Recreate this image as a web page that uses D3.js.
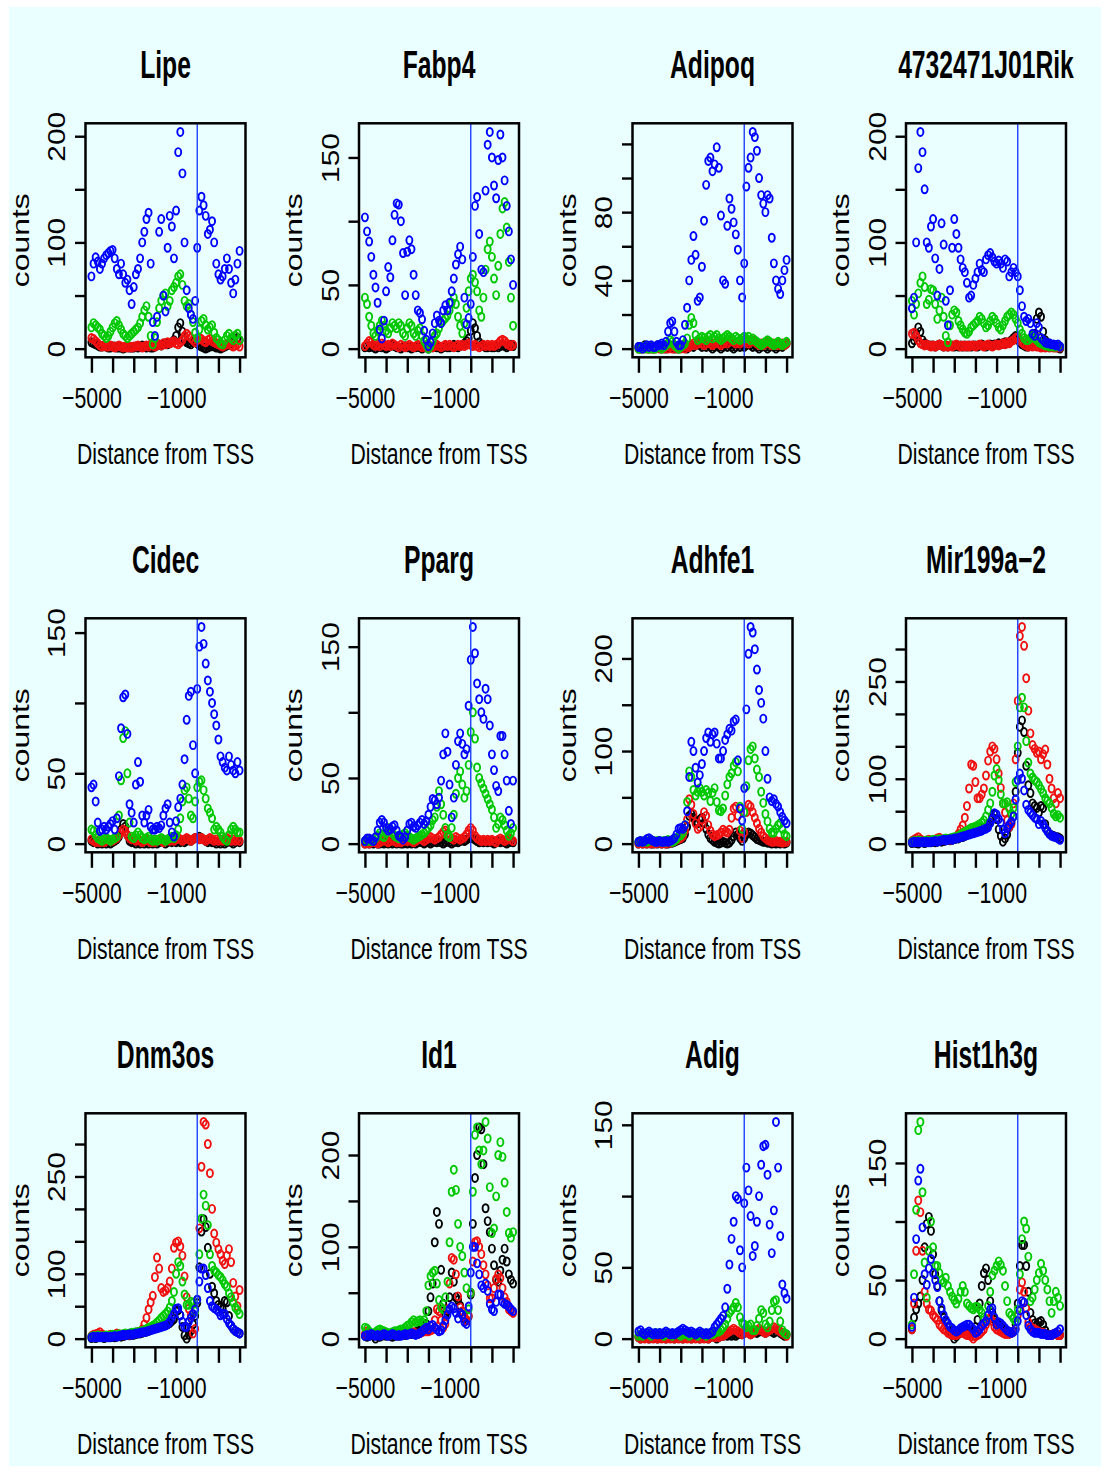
<!DOCTYPE html>
<html lang="en">
<head>
<meta charset="utf-8">
<title>Counts around TSS</title>
<script src="https://cdn.jsdelivr.net/npm/d3@7"></script>
<style>
body { margin: 0; background: #ffffff; }
svg text { font-family: "Liberation Sans", Arial, sans-serif; fill: #000; }
</style>
</head>
<body>
<script>
// distance from TSS of every bin, 100 bp apart
var distances = d3.range(-5000, 2001, 100);
var xTickValues = [-5000, -4000, -3000, -2000, -1000, 0, 1000, 2000];
var xTickLabels = [-5000, -1000];

var geneNames = ["Lipe", "Fabp4", "Adipoq", "4732471J01Rik", "Cidec", "Pparg",
                 "Adhfe1", "Mir199a\u22122", "Dnm3os", "Id1", "Adig", "Hist1h3g"];

var yTicks = [[0,50,100,150,200], [0,50,100,150], [0,20,40,60,80,100,120], [0,50,100,150,200],
              [0,50,100,150], [0,50,100,150], [0,50,100,150,200], [0,50,100,150,200,250,300],
              [0,50,100,150,200,250,300], [0,50,100,150,200], [0,50,100,150], [0,50,100,150]];
var yLabels = [[0,100,200], [0,50,150], [0,40,80], [0,100,200],
               [0,50,150], [0,50,150], [0,100,200], [0,100,250],
               [0,100,250], [0,100,200], [0,50,150], [0,50,150]];

// counts, series order: black, red, green, blue
var lipeBlack = [6,5,4,3,2,2,3,2,1,1, 2,2,1,1,1,0,1,2,1,1, 1,2,1,2,3,2,1,2,1,1, 2,3,4,3,4,5,4,5,6,8, 12,20,24,16,8,6,5,4,6,8, 5,3,2,1,0,1,2,3,2,1, 1,0,1,2,3,4,6,10,12,10,8];
var lipeRed = [10,9,7,5,3,2,3,2,2,3, 2,1,2,3,2,1,2,1,2,1, 2,2,3,2,1,2,3,2,4,3, 2,3,4,3,5,4,6,5,6,7, 5,4,6,8,12,14,12,10,8,6, 8,10,9,7,6,8,9,7,6,5, 4,3,2,3,4,5,3,2,3,4,2];
var lipeGreen = [20,24,22,20,18,14,12,10,12,16, 20,24,26,22,18,14,12,10,12,14, 16,18,20,24,30,36,40,30,12,4, 10,25,38,45,50,52,40,45,55,58, 62,68,70,60,45,40,42,32,25,15, 10,18,26,28,22,18,20,22,15,10, 8,5,4,8,12,14,10,8,12,14,8];
var lipeBlue = [68,80,86,82,75,80,85,88,90,92, 93,85,75,70,80,70,62,65,55,42, 58,70,75,85,100,110,122,128,80,25, 12,30,110,122,50,35,95,125,115,85, 130,185,204,165,100,55,38,32,28,45, 95,130,143,135,125,108,112,120,100,80, 70,65,68,75,85,75,62,52,65,80,92];

var fabp4Black = [1,2,1,2,1,0,1,2,1,1, 0,1,2,3,2,1,1,0,1,2, 1,1,0,1,1,2,1,0,1,1, 0,1,1,2,1,1,0,1,2,1, 1,2,3,2,1,2,3,4,6,8, 14,20,16,10,5,3,2,1,1,2, 1,1,2,1,2,3,2,1,2,3,2];
var fabp4Red = [2,4,6,5,3,2,3,2,4,3, 2,3,2,4,3,2,1,3,2,1, 2,3,2,1,2,3,2,1,2,1, 1,2,1,2,3,2,1,2,3,2, 3,2,1,2,3,2,3,2,3,4, 3,2,3,2,1,2,3,2,3,2, 3,2,3,4,6,7,6,4,3,2,3];
var fabp4Green = [40,35,25,18,12,10,14,18,22,18, 14,12,16,20,18,16,20,18,12,10, 16,20,18,12,10,14,16,10,6,3, 0,2,6,10,12,16,20,22,24,26, 30,36,40,35,25,18,12,20,32,45, 55,58,52,45,30,25,40,62,78,84, 72,55,42,65,90,110,115,95,68,40,18];
var fabp4Blue = [103,92,84,72,58,48,36,15,8,22, 45,64,56,85,105,114,113,100,75,42, 76,85,78,58,42,30,28,23,14,7, 2,5,12,20,26,22,20,30,34,30, 36,45,55,66,74,80,70,40,19,24, 35,72,112,119,90,62,60,124,160,170, 150,128,118,148,168,150,132,112,92,70,50];

var adipoqBlack = [1,0,1,2,1,0,1,0,1,2, 1,0,1,0,1,2,1,0,1,0, 1,2,1,0,1,2,1,2,3,2, 1,2,1,2,1,0,1,2,1,0, 1,2,1,2,1,0,1,2,1,2, 1,2,3,2,1,2,1,0,1,2, 1,0,1,2,1,0,1,2,1,2,3];
var adipoqRed = [0,1,0,1,0,1,0,1,0,1, 0,1,0,1,0,1,0,1,0,1, 0,1,0,1,1,2,3,2,3,4, 3,2,3,4,3,2,3,4,3,2, 3,4,3,4,5,4,3,4,3,4, 5,4,3,4,5,4,3,2,3,2, 3,4,3,2,3,2,3,2,3,2,3];
var adipoqGreen = [0,0,1,0,1,0,1,0,0,1, 1,0,1,2,3,5,4,2,1,0, 1,2,3,6,14,18,15,8,5,6, 7,6,5,7,8,6,7,8,6,5, 6,7,8,7,6,5,7,6,5,6, 7,6,7,5,6,5,4,3,2,3, 4,5,4,3,2,3,4,3,2,3,4];
var adipoqBlue = [1,1,0,1,2,1,2,1,1,2, 2,3,2,4,10,15,16,10,4,2, 2,5,14,24,40,52,66,55,28,30, 48,75,96,110,112,104,108,118,106,78, 40,38,72,88,82,74,67,58,40,30, 50,95,106,112,127,124,116,100,90,85, 80,90,88,65,50,40,35,32,40,46,52];

var rikBlack = [5,8,14,20,16,8,5,4,3,3, 3,2,3,4,3,2,3,2,3,3, 2,3,2,3,2,3,2,3,2,3, 3,2,3,4,3,2,3,4,3,4, 4,5,4,5,6,5,6,8,10,12, 10,6,4,3,2,2,3,6,14,28, 34,30,16,8,5,4,3,3,2,1,0];
var rikRed = [14,15,12,8,5,4,3,4,3,2, 3,2,3,4,3,2,3,2,3,2, 3,4,3,2,3,2,3,2,3,3, 2,3,4,3,2,3,4,3,2,3, 4,3,4,5,4,6,5,7,8,10, 10,8,6,4,3,2,3,2,3,2, 2,1,2,1,2,1,2,1,1,2,1];
var rikGreen = [45,32,42,52,62,68,58,42,46,56, 55,42,28,36,48,30,12,6,22,32, 36,34,26,22,18,15,14,16,20,22, 24,26,30,28,24,20,22,26,30,28, 24,20,18,22,26,30,32,34,32,28, 24,18,14,10,8,8,10,12,10,8, 6,5,4,3,3,2,3,2,2,3,2];
var rikBlue = [38,48,100,170,204,185,150,100,95,115, 122,85,50,75,118,98,45,22,55,95, 122,108,95,84,76,72,62,48,50,60, 66,72,80,74,72,84,88,90,86,82, 80,83,80,76,84,82,68,72,76,72, 68,55,40,30,26,28,24,14,12,24, 20,10,8,6,5,5,4,4,3,4,2];

var cidecBlack = [2,1,1,0,1,0,1,0,1,0, 1,2,3,5,10,14,12,6,2,1, 1,0,1,0,1,0,1,0,1,0, 1,0,1,2,1,0,1,2,1,2, 1,2,1,2,1,2,3,2,3,4, 4,5,4,3,2,1,2,1,1,0, 1,0,1,0,1,2,1,0,1,2,1];
var cidecRed = [3,2,1,2,1,2,1,2,3,2, 2,3,4,6,8,10,9,6,4,3, 3,2,3,2,1,2,3,2,1,2, 1,2,3,2,1,2,3,2,3,2, 3,4,3,2,3,4,3,2,3,4, 4,3,4,3,2,3,4,3,2,3, 2,3,2,3,4,3,2,3,2,3,2];
var cidecGreen = [10,9,6,4,3,2,3,4,3,2, 3,4,5,20,45,75,80,50,15,5, 4,6,8,6,4,3,4,5,3,2, 3,2,3,4,3,2,3,4,5,4, 6,10,18,30,38,40,32,20,18,30, 40,44,45,38,32,25,22,18,10,12, 10,8,5,3,2,6,10,12,10,8,8];
var cidecBlue = [40,42,30,15,9,10,12,10,12,14, 16,10,18,48,82,104,106,78,28,22, 15,42,58,44,20,15,20,24,12,10, 10,12,11,13,20,25,28,15,8,5, 16,26,32,42,60,88,105,108,70,50, 110,140,154,142,128,116,108,100,92,84, 74,62,58,54,52,62,56,52,50,58,52];

var ppargBlack = [0,1,0,1,0,1,0,0,1,0, 1,0,1,0,1,0,1,0,0,1, 0,1,0,1,0,1,2,1,0,1, 1,0,1,2,1,2,1,0,1,2, 1,0,1,2,1,2,3,2,3,4, 5,4,3,2,1,2,1,2,1,2, 1,0,1,2,1,2,1,0,1,2,1];
var ppargRed = [0,1,0,1,2,1,0,1,2,3, 2,1,2,3,2,1,2,1,2,3, 2,3,2,1,2,3,4,3,2,3, 4,5,4,3,4,5,7,9,10,8, 5,4,3,5,4,3,4,5,7,10, 12,10,6,4,3,2,3,2,3,2, 3,2,1,3,4,3,2,3,4,3,2];
var ppargGreen = [2,2,3,2,3,4,6,8,6,5, 8,12,10,8,6,5,4,5,7,8, 6,5,4,3,4,5,6,7,8,10, 12,14,18,20,28,40,30,22,12,6, 5,12,22,38,50,55,45,35,40,60, 85,100,80,58,50,46,42,38,34,30, 26,20,12,15,20,18,14,10,6,8,12];
var ppargBlue = [2,4,4,3,2,5,10,16,18,16, 12,10,11,13,14,10,6,5,3,5, 10,15,16,13,12,14,16,18,15,17, 22,28,34,33,30,35,48,68,84,70, 45,20,35,60,78,84,76,68,72,105, 140,165,145,122,110,100,95,118,110,90, 68,56,44,40,82,82,68,48,25,15,48];

var adhfe1Black = [0,1,0,1,0,1,0,0,1,0, 1,0,1,0,0,1,1,2,3,4, 5,6,10,18,30,32,28,24,22,26, 28,22,16,10,6,4,2,1,0,1, 2,1,0,1,4,8,12,10,6,3, 6,10,12,11,9,7,5,4,3,2, 2,1,1,0,1,0,1,0,1,0,1];
var adhfe1Red = [0,1,0,1,0,1,0,1,0,1, 1,0,1,0,1,1,2,3,4,5, 6,8,14,26,48,42,32,22,16,18, 26,34,30,20,14,10,8,9,10,12, 15,13,12,15,28,38,40,30,14,6, 12,34,42,40,34,28,22,16,12,8, 6,4,3,2,2,3,2,2,1,2,2];
var adhfe1Green = [2,3,2,3,2,3,4,3,2,3, 3,2,3,2,4,3,2,3,5,8, 9,12,20,45,78,72,58,52,56,60, 56,52,58,55,46,55,60,45,36,35, 38,52,64,72,76,84,88,78,40,16, 34,62,90,102,105,92,80,72,56,44, 32,24,16,12,12,16,20,22,16,10,8];
var adhfe1Blue = [2,3,2,3,5,6,4,3,2,2, 3,2,2,3,2,3,4,6,10,16, 17,16,20,35,72,110,100,82,66,74, 86,100,114,120,110,118,120,108,92,92, 100,112,118,124,122,132,134,90,38,25, 60,145,205,234,228,210,188,166,152,135, 100,70,50,46,48,43,40,34,29,25,22];

var mir199Black = [1,2,1,0,3,2,1,2,3,2, 3,2,3,4,3,4,5,6,5,6, 7,8,8,10,10,12,14,15,16,18, 20,21,22,23,24,26,28,32,40,45, 38,22,12,3,8,14,25,32,42,80, 140,180,190,172,120,90,78,62,58,55, 48,58,55,30,20,15,13,12,10,10,8];
var mir199Red = [4,6,8,10,7,5,4,5,6,4, 5,6,8,9,7,5,6,7,6,7, 8,10,15,22,28,40,58,85,122,120, 95,70,70,76,85,105,128,142,150,146, 130,108,86,62,48,36,26,30,62,130, 220,320,334,305,255,205,170,152,146,140, 142,130,138,145,122,100,85,70,62,78,70];
var mir199Green = [3,4,3,5,4,3,4,5,4,5, 6,5,6,7,6,7,8,7,8,9, 10,10,12,14,16,18,20,22,24,25, 26,28,30,32,36,42,52,62,80,105, 115,98,76,62,62,64,54,46,55,95, 150,210,225,210,158,125,108,102,98,95, 90,84,78,70,66,62,55,46,42,44,40];
var mir199Blue = [2,3,2,3,2,3,2,3,2,3, 3,4,3,4,5,6,5,6,7,6, 8,8,9,10,11,12,13,14,15,16, 17,18,19,20,22,23,25,32,38,47, 45,38,32,22,16,24,29,34,42,68, 98,108,100,82,60,52,48,44,40,38, 30,35,30,24,19,15,12,11,10,8,6];

var dnm3osBlack = [1,2,1,2,3,2,1,2,3,2, 3,2,3,4,3,4,5,6,5,6, 6,7,8,8,9,10,11,12,14,15, 16,17,18,19,20,21,22,24,27,30, 42,44,36,18,5,0,6,12,22,35, 55,110,165,184,172,140,100,80,70,58, 52,48,46,58,56,35,20,15,12,10,8];
var dnm3osRed = [4,6,7,8,10,7,5,4,5,6, 5,6,8,7,6,5,6,7,6,7, 8,9,10,10,14,22,32,45,56,66, 95,125,108,78,72,74,78,88,108,140, 148,150,142,128,96,64,46,36,8,15, 60,170,265,334,330,300,255,200,162,148, 138,130,120,115,128,138,118,86,65,50,75];
var dnm3osGreen = [3,4,3,5,4,3,4,5,4,5, 6,5,6,7,6,7,8,7,8,9, 9,10,10,11,12,13,15,17,18,20, 22,25,28,32,35,38,42,48,58,72, 100,118,112,88,68,52,52,57,55,42, 60,130,185,222,205,175,130,112,105,102, 98,95,90,84,80,70,64,56,48,44,38];
var dnm3osBlue = [2,3,2,3,2,3,2,3,2,3, 3,4,3,4,5,6,5,6,7,6, 7,8,8,9,10,10,11,12,13,14, 15,16,17,18,19,20,22,26,32,38, 46,47,36,26,18,18,26,32,38,45, 60,88,108,108,98,78,58,50,47,45, 42,36,38,38,30,24,20,15,12,10,8];

var id1Black = [3,2,3,4,3,0,3,2,3,4, 3,4,3,2,3,4,3,4,5,4, 5,6,5,6,7,8,9,10,12,16, 30,45,60,105,138,125,75,38,26,30, 45,72,62,45,42,36,26,22,20,24, 48,125,175,200,230,228,190,142,128,116, 98,80,64,62,74,86,98,84,70,64,60];
var id1Red = [5,8,6,5,4,5,6,5,4,5, 6,5,4,5,6,5,6,5,4,5, 6,5,6,7,6,5,6,7,8,8, 8,9,10,20,32,30,20,12,16,32, 60,88,86,70,46,34,30,24,20,25, 50,84,105,106,100,92,80,70,58,44, 44,55,65,70,66,55,45,40,32,30,28];
var id1Green = [12,11,8,6,5,7,9,10,9,8, 7,6,6,7,8,8,9,10,10,12, 14,15,18,20,18,19,20,18,20,30, 58,68,72,74,60,42,34,32,45,62, 105,160,184,162,125,100,90,72,55,32, 50,160,222,230,205,190,205,236,218,165, 115,120,155,200,214,198,170,138,115,110,116];
var id1Blue = [3,4,3,5,4,3,4,3,4,5, 4,3,4,5,4,3,4,3,4,5, 4,5,6,5,4,5,6,8,10,12, 10,14,15,12,10,8,9,14,20,26, 32,35,33,28,22,28,26,18,16,35, 72,100,100,82,70,58,55,60,52,38, 32,30,40,48,48,40,38,37,35,32,30];

var adigBlack = [1,0,1,2,1,0,1,2,1,0, 1,2,1,0,1,2,1,0,1,2, 1,0,1,2,1,0,1,2,1,0, 1,2,1,0,1,2,1,0,1,2, 2,3,2,3,2,3,2,3,4,3, 4,5,4,3,4,5,4,5,6,5, 4,5,6,5,4,5,6,4,3,2,3];
var adigRed = [1,0,1,0,1,0,1,0,1,0, 1,0,1,0,1,0,1,0,1,0, 1,0,1,0,1,0,1,0,1,0, 1,0,1,0,1,2,1,2,1,2, 2,3,4,5,6,7,6,5,4,3, 4,5,4,3,4,5,6,7,6,5, 4,5,6,7,8,7,6,5,4,3,2];
var adigGreen = [2,3,2,3,4,3,2,3,4,3, 4,3,2,3,4,3,2,3,4,3, 2,3,4,3,2,3,4,3,2,3, 4,3,2,3,4,3,4,5,5,6, 8,10,14,18,20,22,25,22,15,11, 10,8,9,10,6,6,9,14,20,18, 10,8,12,20,26,27,20,12,6,4,3];
var adigBlue = [5,6,4,3,4,5,4,3,4,3, 4,3,4,5,4,3,4,3,4,5, 6,7,6,5,4,5,4,3,4,5, 4,3,4,3,4,5,8,10,12,14, 16,22,35,52,70,82,100,98,62,50, 95,120,104,86,58,65,82,100,122,135, 136,115,80,60,90,152,120,72,38,32,28];

var hist1h3gBlack = [8,18,25,30,36,50,78,98,104,92, 72,55,45,32,24,18,15,10,6,3, 0,2,4,6,8,7,6,5,6,7, 10,16,30,45,56,60,50,32,22,16, 14,12,10,8,7,6,6,5,6,12, 30,62,80,80,62,40,22,16,13,12, 14,15,12,7,4,3,3,4,4,3,3];
var hist1h3gRed = [8,30,75,118,108,75,40,30,25,24, 20,18,16,12,10,8,7,5,4,3, 3,3,4,5,5,4,3,3,2,0, 2,3,4,6,8,12,16,18,15,10, 8,7,6,5,4,4,4,5,6,8, 20,42,48,40,26,14,10,9,8,7, 6,5,5,4,3,3,3,4,4,3,3];
var hist1h3gGreen = [12,55,110,178,185,125,65,35,75,100, 78,62,62,56,50,48,52,45,40,36, 33,30,34,40,45,40,30,28,26,25, 27,27,25,22,18,15,28,40,54,58, 62,66,63,58,45,32,22,20,17,15, 25,55,85,100,94,70,32,35,42,50, 56,64,58,50,42,32,22,32,40,35,28];
var hist1h3gBlue = [10,35,85,135,145,95,55,46,60,68, 56,50,44,32,26,20,16,13,10,9, 7,6,7,9,10,11,12,12,10,8, 5,6,8,11,13,15,20,25,26,18, 12,14,13,11,9,7,6,5,6,8, 15,24,32,31,20,11,8,6,5,5, 5,4,4,4,3,3,3,4,5,6,8];

var panelSeries = [
  [lipeBlack, lipeRed, lipeGreen, lipeBlue],
  [fabp4Black, fabp4Red, fabp4Green, fabp4Blue],
  [adipoqBlack, adipoqRed, adipoqGreen, adipoqBlue],
  [rikBlack, rikRed, rikGreen, rikBlue],
  [cidecBlack, cidecRed, cidecGreen, cidecBlue],
  [ppargBlack, ppargRed, ppargGreen, ppargBlue],
  [adhfe1Black, adhfe1Red, adhfe1Green, adhfe1Blue],
  [mir199Black, mir199Red, mir199Green, mir199Blue],
  [dnm3osBlack, dnm3osRed, dnm3osGreen, dnm3osBlue],
  [id1Black, id1Red, id1Green, id1Blue],
  [adigBlack, adigRed, adigGreen, adigBlue],
  [hist1h3gBlack, hist1h3gRed, hist1h3gGreen, hist1h3gBlue]
];
var seriesColors = ["#000000", "#f01010", "#00c800", "#0000ff"];

// layout
var width = 1109, height = 1472;
var left0 = 85.5, top0 = 123.3, colStep = 273.5, rowStep = 495;
var boxW = 160, boxH = 234;

var svg = d3.select("body").append("svg")
  .attr("width", width)
  .attr("height", height);

svg.append("rect").attr("width", width).attr("height", height).attr("fill", "#ffffff");
svg.append("rect")
  .attr("x", 9).attr("y", 7)
  .attr("width", 1092).attr("height", 1459)
  .attr("fill", "#eaffff");

svg.append("defs").append("clipPath").attr("id", "plotClip")
  .append("rect").attr("width", boxW).attr("height", boxH);

panelSeries.forEach(function(series, k) {
  var col = k % 4, row = Math.floor(k / 4);
  var panel = svg.append("g")
    .attr("transform", "translate(" + (left0 + col * colStep) + "," + (top0 + row * rowStep) + ")");

  // R style 4% padding on both axes
  var x = d3.scaleLinear().domain([-5280, 2280]).range([0, boxW]);
  var all = d3.merge(series);
  var lo = d3.min(all), hi = d3.max(all), pad = 0.04 * (hi - lo);
  var y = d3.scaleLinear().domain([lo - pad, hi + pad]).range([boxH, 0]);

  var pts = panel.append("g").attr("clip-path", "url(#plotClip)");
  series.forEach(function(values, s) {
    pts.append("g").selectAll("ellipse")
      .data(values)
      .enter()
      .append("ellipse")
      .attr("cx", function(d, i) { return x(distances[i]); })
      .attr("cy", function(d) { return y(d); })
      .attr("rx", 3.0)
      .attr("ry", 4.0)
      .attr("fill", "none")
      .attr("stroke", seriesColors[s])
      .attr("stroke-width", 1.9);
  });

  // x axis
  var gx = panel.append("g")
    .attr("transform", "translate(0," + boxH + ")")
    .call(d3.axisBottom(x)
      .tickValues(xTickValues)
      .tickSize(15.5)
      .tickSizeOuter(0)
      .tickFormat(function(d) { return xTickLabels.indexOf(d) >= 0 ? d3.format("d")(d) : ""; }));
  gx.select(".domain").remove();
  gx.selectAll(".tick line").attr("stroke", "#000").attr("stroke-width", 2.4);
  gx.selectAll(".tick text")
    .attr("y", null).attr("dy", null)
    .attr("font-size", 30)
    .attr("font-family", "Liberation Sans, Arial, sans-serif")
    .attr("fill", "#000")
    .attr("transform", "translate(0,51) scale(0.71,1)");

  // y axis
  var gy = panel.append("g")
    .call(d3.axisLeft(y)
      .tickValues(yTicks[k])
      .tickSize(10.5)
      .tickSizeOuter(0)
      .tickFormat(function(d) { return yLabels[k].indexOf(d) >= 0 ? d : ""; }));
  gy.select(".domain").remove();
  gy.selectAll(".tick line").attr("stroke", "#000").attr("stroke-width", 2.4);
  gy.selectAll(".tick text")
    .attr("x", null).attr("dy", null)
    .attr("text-anchor", "middle")
    .attr("font-size", 23)
    .attr("font-family", "Liberation Sans, Arial, sans-serif")
    .attr("fill", "#000")
    .attr("transform", "translate(-20.5,0) rotate(-90) scale(1.3,1)");

  // TSS line
  panel.append("line")
    .attr("x1", x(0)).attr("x2", x(0))
    .attr("y1", 0).attr("y2", boxH)
    .attr("stroke", "#2040ff")
    .attr("stroke-width", 1.4);

  panel.append("rect")
    .attr("width", boxW).attr("height", boxH)
    .attr("fill", "none")
    .attr("stroke", "#000")
    .attr("stroke-width", 2.5);

  panel.append("text")
    .attr("text-anchor", "middle")
    .attr("font-size", 38)
    .attr("font-weight", "bold")
    .attr("transform", "translate(" + (boxW / 2) + ",-45) scale(0.65,1)")
    .text(geneNames[k]);

  panel.append("text")
    .attr("text-anchor", "middle")
    .attr("font-size", 29)
    .attr("transform", "translate(" + (boxW / 2) + "," + (boxH + 107) + ") scale(0.73,1)")
    .text("Distance from TSS");

  panel.append("text")
    .attr("text-anchor", "middle")
    .attr("font-size", 24)
    .attr("transform", "translate(-57," + (boxH / 2) + ") rotate(-90) scale(1.33,1)")
    .text("counts");
});
</script>
</body>
</html>
